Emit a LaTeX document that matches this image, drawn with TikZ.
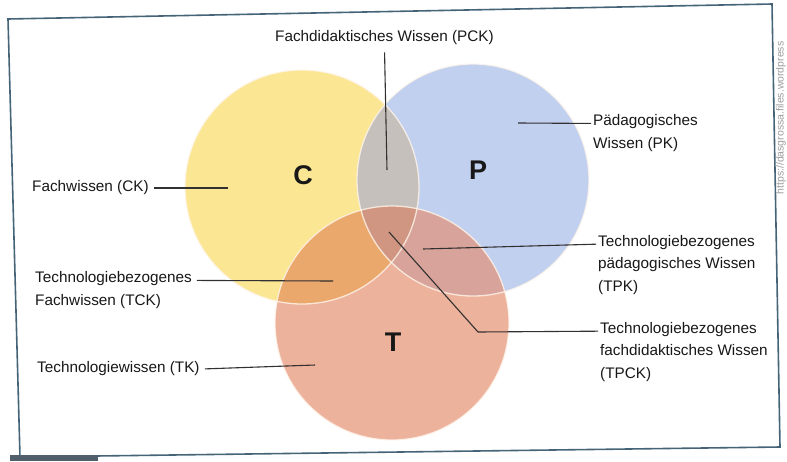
\documentclass[tikz,border=0pt]{standalone}
\usepackage{fontspec}
\setmainfont{Liberation Sans}
\usetikzlibrary{calc}
\definecolor{cyel}{RGB}{251,230,148}
\definecolor{cblue}{RGB}{194,208,240}
\definecolor{csal}{RGB}{237,178,156}
\definecolor{cCP}{RGB}{198,192,188}
\definecolor{cCT}{RGB}{235,168,108}
\definecolor{cPT}{RGB}{216,163,154}
\definecolor{cCPT}{RGB}{208,150,130}
\definecolor{txt}{RGB}{24,24,24}
\definecolor{lin}{RGB}{50,48,48}
\definecolor{frm}{RGB}{70,100,120}
\definecolor{barc}{RGB}{80,95,105}
\definecolor{rimc}{RGB}{255,246,236}
\begin{document}
\begin{tikzpicture}[x=1pt,y=-1pt,
  lbl/.style={anchor=west,inner sep=2pt,font=\fontsize{15.3}{22.5}\selectfont,text=txt,align=left},
  lead/.style={draw=lin,line width=1.1pt},
  big/.style={font=\fontsize{27}{30}\selectfont\bfseries,text=txt},
  rim/.style={draw=rimc,draw opacity=0.8,line width=1.3pt}]
\useasboundingbox (0,0) rectangle (787,461);
\fill[white] (0,0) rectangle (787,461);
% frame of the page
\draw[frm,line width=1.6pt] (8,19) -- (772,4) -- (780,447) -- (20,457) -- cycle;
\fill[barc] (10,455) rectangle (98,461);
\node[rotate=90,font=\fontsize{10.5}{12}\selectfont,text=black!38] (url) at (781,118) {https://dasgrossa.files.wordpress};
% circles
\coordinate (cC) at (302,187);
\coordinate (cP) at (473,180);
\coordinate (cT) at (392,323);
\fill[cyel] (cC) circle (117pt);
\fill[cblue] (cP) circle (116pt);
\fill[csal] (cT) circle (117pt);
\begin{scope}
  \clip (cP) circle (116pt);
  \fill[cPT] (cT) circle (117pt);
\end{scope}
\begin{scope}
  \clip (cC) circle (117pt);
  \fill[cCP] (cP) circle (116pt);
  \fill[cCT] (cT) circle (117pt);
  \clip (cP) circle (116pt);
  \fill[cCPT] (cT) circle (117pt);
\end{scope}
\draw[rim] (cC) circle (117pt);
\draw[rim] (cP) circle (116pt);
\draw[rim] (cT) circle (117pt);
% big letters
\node[big] (lC) at (303,175) {C};
\node[big] (lP) at (478,170) {P};
\node[big] (lT) at (393,342) {T};
% labels
\node[lbl] (pck) at (273,38) {Fachdidaktisches Wissen (PCK)};
\node[lbl] (ck) at (30,188) {Fachwissen (CK)};
\node[lbl] (pk) at (591,133) {Pädagogisches\\Wissen (PK)};
\node[lbl] (tpk) at (596,265) {Technologiebezogenes\\pädagogisches Wissen\\(TPK)};
\node[lbl] (tpck) at (598,352) {Technologiebezogenes\\fachdidaktisches Wissen\\(TPCK)};
\node[lbl] (tck) at (33,290) {Technologiebezogenes\\Fachwissen (TCK)};
\node[lbl] (tk) at (35,369) {Technologiewissen (TK)};
% leader ends
\coordinate (pckE) at (387,170);
\coordinate (ckE) at (228,188);
\coordinate (pkE) at (518,123);
\coordinate (tpkE) at (423,249);
\coordinate (tpckE) at (389,232);
\coordinate (tpckB) at (478,332);
\coordinate (tckE) at (333,281);
\coordinate (tkE) at (315,365);
% leaders
\draw[lead,shorten <=5pt] (pck.south) -- (pckE);
\draw[lead,shorten <=3pt] (ck.east) -- (ckE);
\draw[lead] (pkE) -- ($(pk.north west)+(0,11)$);
\draw[lead] (tpkE) -- ($(tpk.north west)+(0,11)$);
\draw[lead] (tpckE) -- (tpckB) -- ($(tpck.north west)+(0,11)$);
\draw[lead] ($(tck.north east)+(3,11)$) -- (tckE);
\draw[lead,shorten <=3pt] (tk.east) -- (tkE);
\end{tikzpicture}
\end{document}
